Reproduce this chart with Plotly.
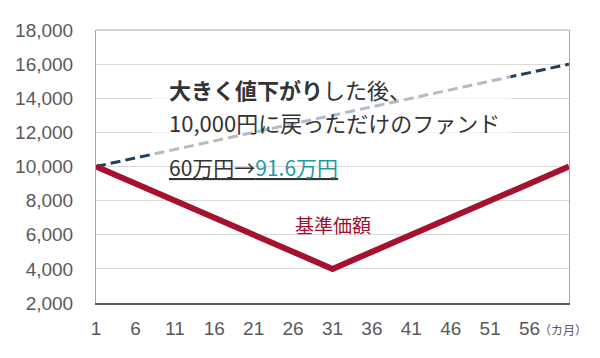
import plotly.graph_objects as go

# data
nav_months = [1, 31, 61]
nav_values = [10000, 4000, 10000]
ref_months = [1, 61]
ref_values = [10000, 16000]
x_ticks = [1, 6, 11, 16, 21, 26, 31, 36, 41, 46, 51, 56]
y_ticks = [2000, 4000, 6000, 8000, 10000, 12000, 14000, 16000, 18000]

JP = "Noto Sans CJK JP"
NUM = "Liberation Sans, Arial"

fig = go.Figure()
fig.add_trace(go.Scatter(x=ref_months, y=ref_values, mode="lines",
                         line=dict(color="#1f3f5f", width=3, dash="10px,5px"),
                         showlegend=False, hoverinfo="skip"))
fig.add_trace(go.Scatter(x=nav_months, y=nav_values, mode="lines",
                         line=dict(color="#a5122f", width=6),
                         showlegend=False, hoverinfo="skip"))

fig.update_layout(
    width=592, height=350,
    margin=dict(l=88, r=31, t=22, b=55),
    paper_bgcolor="white", plot_bgcolor="white",
    xaxis=dict(range=[1, 61], tickvals=x_ticks, ticktext=[str(v) for v in x_ticks],
               showgrid=False, zeroline=False, showline=True, linecolor="#595959",
               linewidth=2, tickfont=dict(family=NUM, size=19, color="#595959"),
               ticks="", ticklabelstandoff=7, automargin=False),
    yaxis=dict(range=[2000, 18000], tickvals=y_ticks, tickformat=",d",
               showgrid=True, gridcolor="#d9d9d9", gridwidth=1, zeroline=False,
               showline=True, linecolor="#a6a6a6", linewidth=1, mirror=True,
               tickfont=dict(family=NUM, size=19, color="#595959"),
               ticks="", ticklabelstandoff=18, automargin=False),
    shapes=[
        dict(type="line", xref="paper", yref="paper", x0=0, x1=1, y0=1, y1=1,
             line=dict(color="#a6a6a6", width=1)),
        dict(type="rect", xref="x", yref="y", x0=8.1, x1=53.6, y0=10450, y1=15700,
             fillcolor="rgba(255,255,255,0.65)", line=dict(width=0), layer="above"),
    ],
    annotations=[
        dict(x=10.0, y=14530, xref="x", yref="y", xanchor="left", yanchor="middle",
             showarrow=False, text="<b>大きく値下がり</b>した後、",
             font=dict(family=JP, size=22, color="#333333")),
        dict(x=10.0, y=12590, xref="x", yref="y", xanchor="left", yanchor="middle",
             showarrow=False, text="10,000円に戻っただけのファンド",
             font=dict(family=JP, size=22, color="#333333")),
        dict(x=10.0, y=10000, xref="x", yref="y", xanchor="left", yanchor="middle",
             showarrow=False,
             text="<u>60万円→</u><u><span style='color:#1f9ba5'>91.6万円</span></u>",
             font=dict(family=JP, size=21, color="#333333")),
        dict(x=31.06, y=6590, xref="x", yref="y", xanchor="center", yanchor="middle",
             showarrow=False, text="基準価額",
             font=dict(family=JP, size=19, color="#a0102c")),
        dict(x=1.0, y=0, xref="paper", yref="paper", xanchor="center", yanchor="top",
             yshift=-16, xshift=-6, showarrow=False, text="（カ月）",
             font=dict(family=JP, size=12, color="#595959")),
    ],
)

fig.write_html("out.html")
